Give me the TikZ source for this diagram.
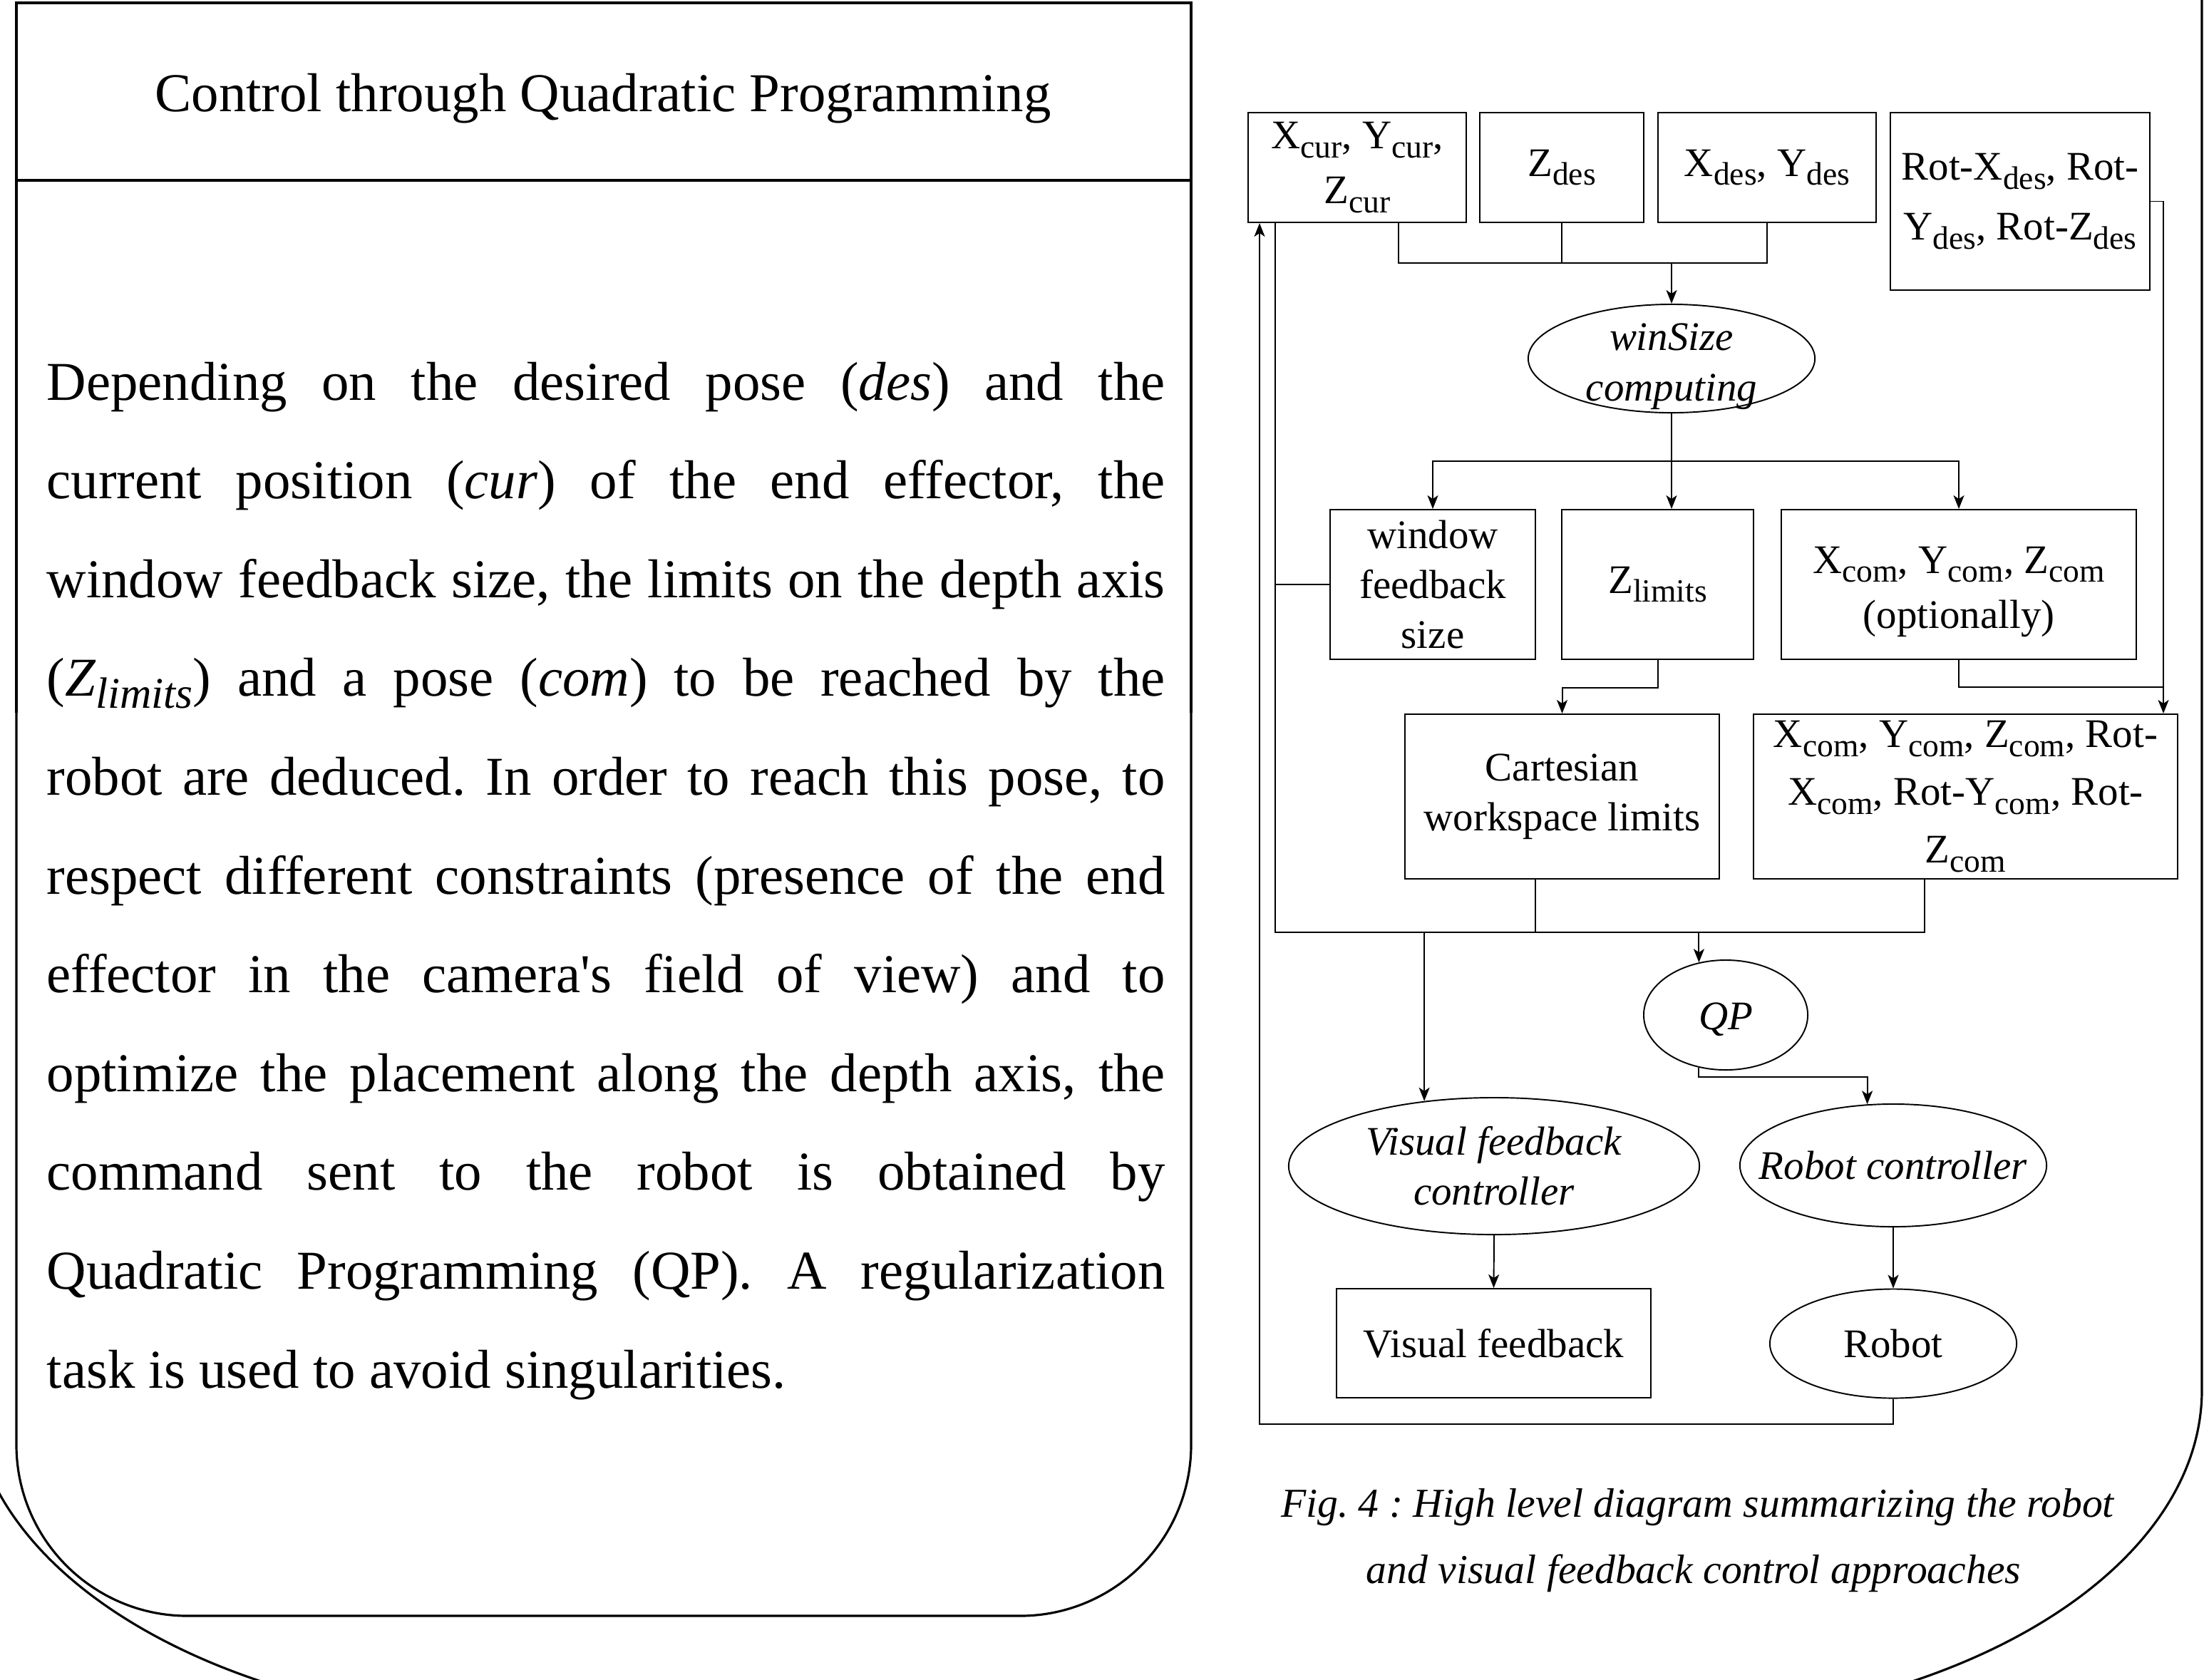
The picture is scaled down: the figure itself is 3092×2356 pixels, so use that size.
\documentclass[tikz,border=0pt]{standalone}
\usepackage{fontspec}
\setmainfont{Liberation Serif}[Ligatures=TeXOff]
\usepackage{graphicx}
\usetikzlibrary{shapes.geometric,arrows.meta,calc}
\newcommand\subx[1]{\raisebox{-0.22em}{\scalebox{0.8}{#1}}}
\newcommand\dgfont{\fontsize{16.2}{20}\selectfont}
\newcommand\bodyfont{\fontsize{21.85}{39}\selectfont}
\newcommand\capfont{\fontsize{16.4}{26}\selectfont}
\frenchspacing
\begin{document}
\begin{tikzpicture}[x=0.01cm,y=-0.01cm,
  panel/.style={line width=0.9pt},
  conn/.style={line width=0.55pt},
  arr/.style={-{Stealth[length=0.19cm,width=0.15cm,inset=0.05cm]}},
  box/.style={draw,line width=0.55pt,rectangle,inner sep=0pt,align=center,font=\dgfont},
  oval/.style={draw,line width=0.55pt,ellipse,inner sep=0pt,align=center,font=\dgfont},
  bodyline/.style={anchor=base west,inner sep=0pt,font=\bodyfont}]
\fill[white] (0,0) rectangle (3092,2356);
\useasboundingbox (0,0) rectangle (3092,2356);
% outer shape
\begin{scope}
\clip (0,0) rectangle (3092,2356);
\draw[panel] (3089,-20) -- (3089,1950) arc[start angle=0,end angle=90,x radius=802,y radius=470]
  -- (762,2420) arc[start angle=90,end angle=180,x radius=802,y radius=470] -- (-40,-20);
\end{scope}
% inner panel
\draw[panel] (23,1000) -- (23,4) -- (1671,4) -- (1671,1000);
\draw[panel,rounded corners=2.4cm] (1671,1000) -- (1671,2267) -- (23,2267) -- (23,1000);
\draw[panel] (23,253) -- (1671,253);
\node[font=\bodyfont,anchor=base,inner sep=0pt] (title) at (846,156) {Control through Quadratic Programming};
% body text
\node[bodyline] (b1) at (65,561) {\makebox[15.68cm][s]{Depending on the desired pose (\textit{des}) and the}};
\node[bodyline] (b2) at (65,699.6) {\makebox[15.68cm][s]{current position (\textit{cur}) of the end effector, the}};
\node[bodyline] (b3) at (65,838.2) {\makebox[15.68cm][s]{window feedback size, the limits on the depth axis}};
\node[bodyline] (b4) at (65,976.8) {\makebox[15.68cm][s]{(\textit{Z\subx{limits}}) and a pose (\textit{com}) to be reached by the}};
\node[bodyline] (b5) at (65,1115.4) {\makebox[15.68cm][s]{robot are deduced. In order to reach this pose, to}};
\node[bodyline] (b6) at (65,1254) {\makebox[15.68cm][s]{respect different constraints (presence of the end}};
\node[bodyline] (b7) at (65,1392.6) {\makebox[15.68cm][s]{effector in the camera's field of view) and to}};
\node[bodyline] (b8) at (65,1531.2) {\makebox[15.68cm][s]{optimize the placement along the depth axis, the}};
\node[bodyline] (b9) at (65,1669.8) {\makebox[15.68cm][s]{command sent to the robot is obtained by}};
\node[bodyline] (b10) at (65,1808.4) {\makebox[15.68cm][s]{Quadratic Programming (QP). A regularization}};
\node[bodyline] (b11) at (65,1947) {task is used to avoid singularities.};
% diagram nodes
\node[box,minimum width=3.06cm,minimum height=1.54cm] (xcur) at (1904,235) {X\subx{cur}, Y\subx{cur},\\[2pt]Z\subx{cur}};
\node[box,minimum width=2.30cm,minimum height=1.54cm] (zdes) at (2191,235) {Z\subx{des}};
\node[box,minimum width=3.06cm,minimum height=1.54cm] (xdes) at (2479,235) {X\subx{des}, Y\subx{des}};
\node[box,minimum width=3.64cm,minimum height=2.49cm] (rotdes) at (2834,282.5) {Rot-X\subx{des}, Rot-\\[4pt]Y\subx{des}, Rot-Z\subx{des}};
\node[oval,minimum width=4.02cm,minimum height=1.52cm,inner ysep=-0.3cm] (win) at (2345,503) {\rule{0pt}{0.6cm}\textit{winSize}\\\textit{computing}};
\node[box,minimum width=2.88cm,minimum height=2.10cm] (wfs) at (2010,820) {window\\feedback\\size};
\node[box,minimum width=2.69cm,minimum height=2.10cm] (zlim) at (2325.5,820) {Z\subx{limits}};
\node[box,minimum width=4.98cm,minimum height=2.10cm] (xcom) at (2748,820) {\rule{0pt}{0.58cm}X\subx{com}, Y\subx{com}, Z\subx{com}\\[2pt](optionally)};
\node[box,minimum width=4.41cm,minimum height=2.31cm] (cart) at (2191.5,1117.5) {Cartesian\\workspace limits};
\node[box,minimum width=5.95cm,minimum height=2.31cm,inner ysep=-0.3cm] (xcomrot) at (2757.5,1117.5) {X\subx{com}, Y\subx{com}, Z\subx{com}, Rot-\\[3pt]X\subx{com}, Rot-Y\subx{com}, Rot-\\[3pt]Z\subx{com}};
\node[oval,minimum width=2.30cm,minimum height=1.54cm] (qp) at (2421,1424) {\rule{0pt}{0.5cm}\textit{QP}};
\node[oval,minimum width=5.76cm,minimum height=1.92cm,inner ysep=-0.1cm] (vfc) at (2096,1636) {\textit{Visual feedback}\\\textit{controller}};
\node[oval,minimum width=4.30cm,minimum height=1.72cm,inner xsep=-0.4cm] (rc) at (2656,1635) {\textit{Robot controller}};
\node[box,minimum width=4.41cm,minimum height=1.53cm] (vfb) at (2095.5,1884.5) {Visual feedback};
\node[oval,minimum width=3.46cm,minimum height=1.53cm] (robot) at (2656,1885) {Robot};
% connectors
\coordinate (j1) at (2345,369);
\draw[conn] ($(xcur.south)+(58,0)$) |- (j1) -| (xdes.south);
\draw[conn] (zdes.south) -- (zdes.south |- j1);
\draw[conn,arr] (j1) -- (win.north);
\coordinate (j2) at (2345,647);
\draw[conn] (win.south) -- (j2);
\draw[conn,arr] (j2) -| (wfs.north);
\draw[conn,arr] (j2) -| (xcom.north);
\draw[conn,arr] (j2) -- (j2 |- zlim.north);
\draw[conn,arr] (zlim.south) -- ++(0,39) -| (cart.north);
\coordinate (j3) at (3035,964);
\draw[conn] (xcom.south) |- (j3);
\draw[conn,arr] (rotdes.east) -| (j3) -- (j3 |- xcomrot.north);
\coordinate (lx) at (1789,1308);
\coordinate (hb) at (2700,1308);
\draw[conn] (xcur.south -| lx) -- (lx) -- (hb) -- (hb |- xcomrot.south);
\draw[conn] (wfs.west) -- (wfs.west -| lx);
\coordinate (cs) at ($(cart.south)+(-37.5,0)$);
\draw[conn] (cs) -- (cs |- hb);
\draw[conn,arr] (vfc.137 |- hb) -- (vfc.137);
\draw[conn,arr] (qp.117 |- hb) -- (qp.117);
\draw[conn,arr] (qp.243) -- ++(0,13) -| (rc.113);
\draw[conn,arr] (vfc.south) -- (vfb.north);
\draw[conn,arr] (rc.south) -- (robot.north);
\coordinate (fb) at (1767,1998);
\draw[conn,arr] (robot.south) |- (fb) -- (fb |- xcur.south);
% caption
\node[font=\capfont,anchor=base,inner sep=0pt] (cap1) at (2382,2128) {\textit{Fig. 4 : High level diagram summarizing the robot}};
\node[font=\capfont,anchor=base,inner sep=0pt] (cap2) at (2376,2221) {\textit{and visual feedback control approaches}};
\end{tikzpicture}
\end{document}
